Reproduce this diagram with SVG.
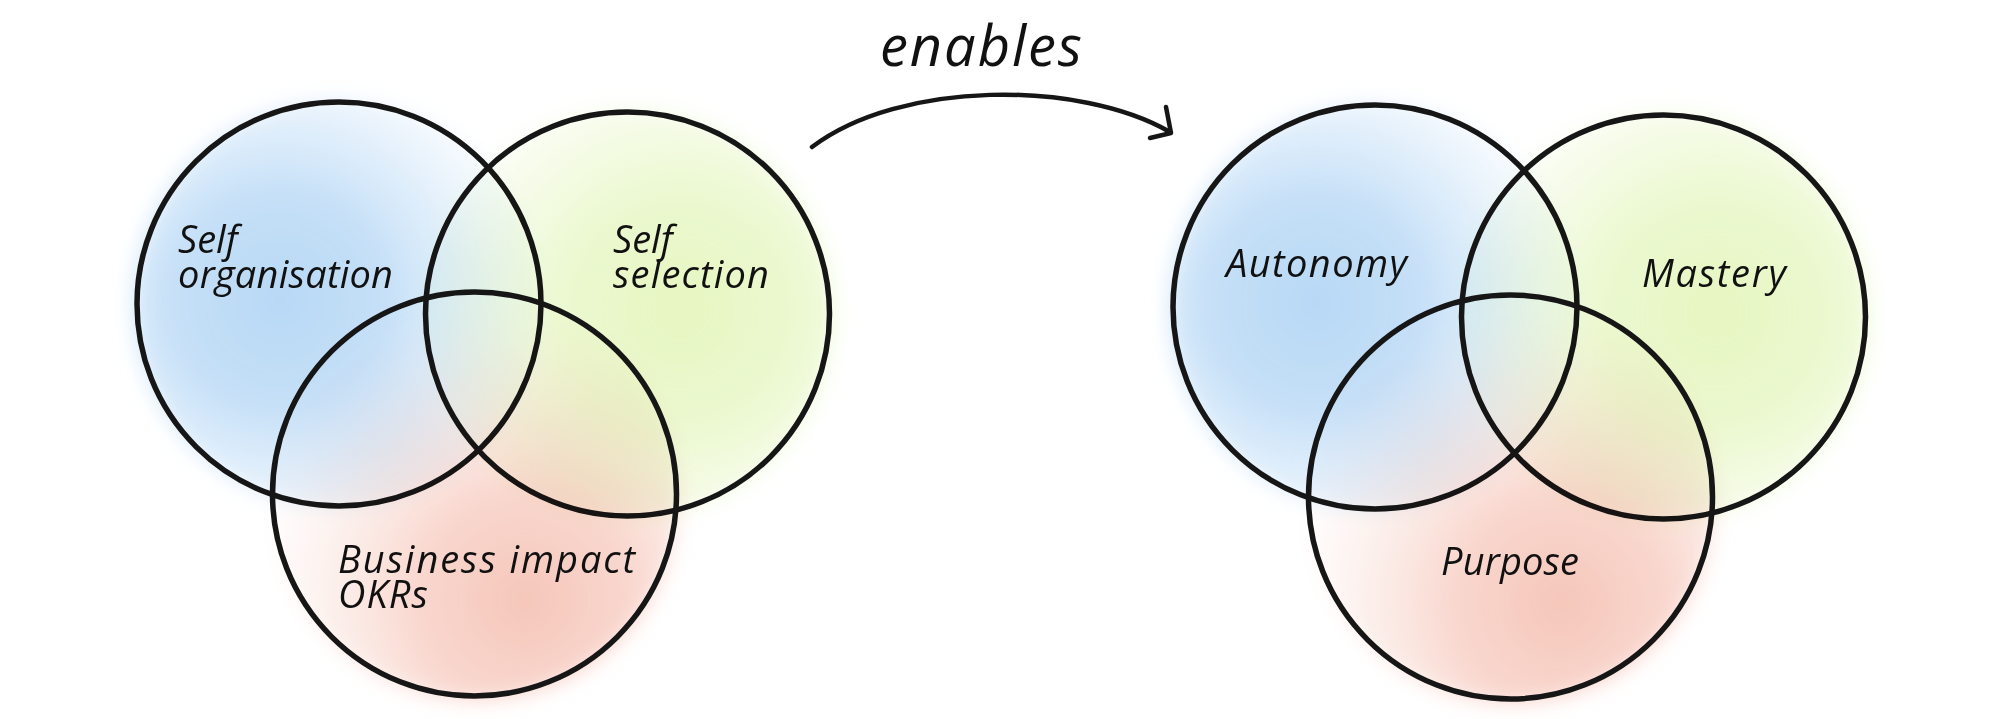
<svg xmlns="http://www.w3.org/2000/svg" width="2000" height="719" viewBox="0 0 2000 719">
  <style>
    .ring { fill: none; stroke: #161616; stroke-width: 5.5; }
    .blob { mix-blend-mode: multiply; filter: url(#soft); }
    .label { font-family: "Open Sans", "Noto Sans", "DejaVu Sans", sans-serif; font-style: italic; font-weight: 500; font-size: 38px; fill: #111; }
    .title { font-family: "Open Sans", "Noto Sans", "DejaVu Sans", sans-serif; font-style: italic; font-weight: 500; font-size: 56px; fill: #111; }
    .link { fill: none; stroke: #161616; stroke-width: 4.5; stroke-linecap: round; stroke-linejoin: round; }
  </style>
  <defs>
    <filter id="soft" x="-20%" y="-20%" width="140%" height="140%">
      <feGaussianBlur stdDeviation="10"/>
    </filter>
    <!-- soft washes, defined in the coordinates of the left set -->
    <radialGradient id="wash-blue" gradientUnits="userSpaceOnUse" cx="280" cy="300" r="300">
      <stop offset="0" stop-color="#b8d8f5" stop-opacity="1"/>
      <stop offset="0.35" stop-color="#c2def7" stop-opacity="0.95"/>
      <stop offset="0.6" stop-color="#cfe5f9" stop-opacity="0.6"/>
      <stop offset="0.85" stop-color="#e2effb" stop-opacity="0.2"/>
      <stop offset="1" stop-color="#eef5fc" stop-opacity="0"/>
    </radialGradient>
    <radialGradient id="wash-green" gradientUnits="userSpaceOnUse" cx="680" cy="310" r="300">
      <stop offset="0" stop-color="#e6f6c0" stop-opacity="1"/>
      <stop offset="0.4" stop-color="#eaf8cc" stop-opacity="0.9"/>
      <stop offset="0.65" stop-color="#eef9d6" stop-opacity="0.55"/>
      <stop offset="0.9" stop-color="#f4fbe4" stop-opacity="0.15"/>
      <stop offset="1" stop-color="#f4fbe4" stop-opacity="0"/>
    </radialGradient>
    <radialGradient id="wash-red" gradientUnits="userSpaceOnUse" cx="525" cy="600" r="300">
      <stop offset="0" stop-color="#f6c6ba" stop-opacity="1"/>
      <stop offset="0.35" stop-color="#f8d2c8" stop-opacity="0.9"/>
      <stop offset="0.6" stop-color="#f9dcd4" stop-opacity="0.55"/>
      <stop offset="0.85" stop-color="#fbe6e0" stop-opacity="0.15"/>
      <stop offset="1" stop-color="#fbe6e0" stop-opacity="0"/>
    </radialGradient>
  </defs>

  <rect width="2000" height="719" fill="#ffffff"/>

  <!-- left set: practices -->
  <g id="practices">
    <g id="self-organisation">
      <circle class="blob" cx="339" cy="304" r="206" fill="url(#wash-blue)"/>
      <circle class="ring" cx="339" cy="304" r="202"/>
      <text class="label"><tspan x="178" y="253">Self</tspan><tspan x="178" y="288" textLength="215">organisation</tspan></text>
    </g>
    <g id="self-selection">
      <circle class="blob" cx="627.5" cy="314" r="206" fill="url(#wash-green)"/>
      <circle class="ring" cx="627.5" cy="314" r="202"/>
      <text class="label"><tspan x="613" y="253">Self</tspan><tspan x="613" y="288" textLength="156">selection</tspan></text>
    </g>
    <g id="business-impact-okrs">
      <circle class="blob" cx="474.5" cy="494" r="206" fill="url(#wash-red)"/>
      <circle class="ring" cx="474.5" cy="494" r="202"/>
      <text class="label"><tspan x="338" y="573" textLength="297">Business impact</tspan><tspan x="338" y="608" textLength="90">OKRs</tspan></text>
    </g>
  </g>

  <!-- right set: motivators (same layout, shifted) -->
  <g id="motivators" transform="translate(1036 3)">
    <g id="autonomy">
      <circle class="blob" cx="339" cy="304" r="206" fill="url(#wash-blue)"/>
      <circle class="ring" cx="339" cy="304" r="202"/>
      <text class="label" x="190" y="274" textLength="181">Autonomy</text>
    </g>
    <g id="mastery">
      <circle class="blob" cx="627.5" cy="314" r="206" fill="url(#wash-green)"/>
      <circle class="ring" cx="627.5" cy="314" r="202"/>
      <text class="label" x="606" y="284" textLength="144">Mastery</text>
    </g>
    <g id="purpose">
      <circle class="blob" cx="474.5" cy="494" r="206" fill="url(#wash-red)"/>
      <circle class="ring" cx="474.5" cy="494" r="202"/>
      <text class="label" x="405" y="572" textLength="138">Purpose</text>
    </g>
  </g>

  <!-- connector -->
  <g id="connectors">
    <path class="link" d="M 812 147 C 900 80, 1080 80, 1170 132"/>
    <path class="link" d="M 1166 107 L 1171 133 L 1150 138"/>
    <text class="title" x="880" y="66" textLength="202">enables</text>
  </g>
</svg>
